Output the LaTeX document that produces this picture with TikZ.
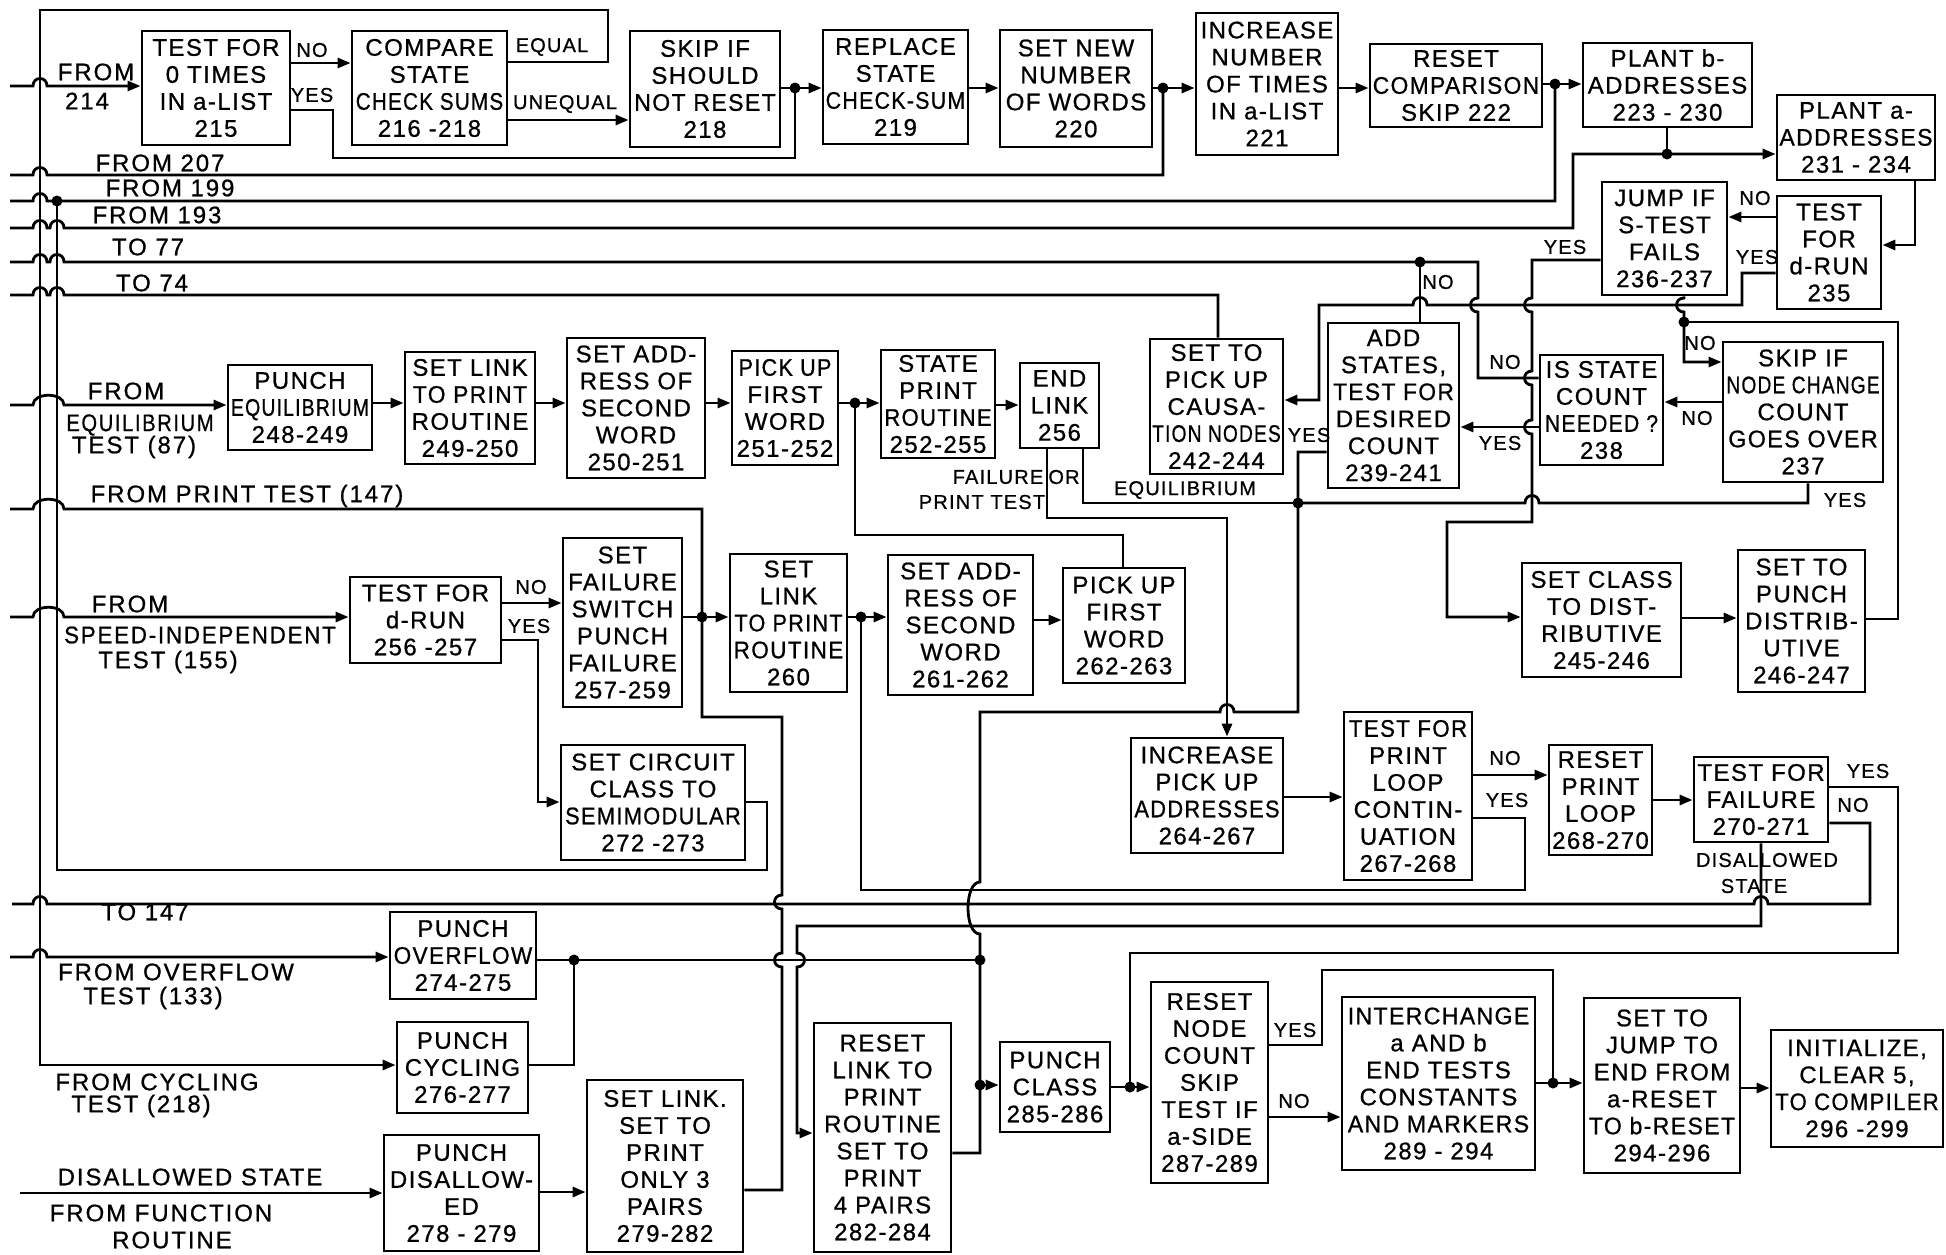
\documentclass[tikz,border=0pt]{standalone}
\usepackage{fontspec}
\setmainfont[LetterSpace=6,FakeBold=0.8]{Liberation Sans}
\usetikzlibrary{arrows.meta}
\newcommand\nw[2]{\scalebox{#1}[1]{#2}}
\newcommand\hoph[2]{-- ({#1-7},#2) .. controls ({#1-7},{#2-10}) and ({#1+7},{#2-10}) .. ({#1+7},#2)}
\newcommand\hopl[2]{-- ({#1+7},#2) .. controls ({#1+7},{#2-10}) and ({#1-7},{#2-10}) .. ({#1-7},#2)}
\newcommand\hopd[2]{-- (#1,{#2-7}) .. controls ({#1-10},{#2-7}) and ({#1-10},{#2+7}) .. (#1,{#2+7})}
\newcommand\hopdr[2]{-- (#1,{#2-7}) .. controls ({#1+10},{#2-7}) and ({#1+10},{#2+7}) .. (#1,{#2+7})}
\newcommand\hopw[3]{-- (#1,#3) .. controls (#1,{#3-13}) and (#2,{#3-13}) .. (#2,#3)}
\newcommand\bx[6]{%
  \pgfmathsetmacro\bxw{#4-#2}%
  \pgfmathsetmacro\bxh{#5-#3}%
  \pgfmathsetmacro\bxt{#4-#2-4}%
  \node[box, minimum width=\bxw pt, minimum height=\bxh pt, text width=\bxt pt] (#1) at ({(#2+#4)/2},{(#3+#5)/2}) {#6};}
\tikzset{
  box/.style={draw, line width=2.8pt, inner sep=0pt, align=center, font=\fontsize{24}{27}\selectfont},
  ln/.style={line width=2.8pt},
  arr/.style={line width=2.8pt, -{Triangle[length=13pt,width=10pt]}},
  lab/.style={font=\fontsize{20}{22}\selectfont, inner sep=0pt},
  side/.style={font=\fontsize{24}{26}\selectfont\addfontfeatures{LetterSpace=8}, inner sep=0pt, align=center},
}
\begin{document}
\begin{tikzpicture}[x=1pt,y=-1pt]
\useasboundingbox (0,0) rectangle (1946,1255);
\fill[white] (0,0) rectangle (1946,1255);
% ---------------- boxes ----------------
\bx{n215}{142}{31}{290}{145}{TEST FOR\\0 TIMES\\IN a-LIST\\215}
\bx{n216}{352}{31}{507}{145}{COMPARE\\STATE\\\nw{0.86}{CHECK SUMS}\\216 -218}
\bx{n218}{630}{31}{780}{147}{SKIP IF\\SHOULD\\\nw{0.96}{NOT RESET}\\218}
\bx{n219}{823}{30}{968}{144}{REPLACE\\STATE\\\nw{0.89}{CHECK-SUM}\\219}
\bx{n220}{1000}{30}{1152}{147}{SET NEW\\NUMBER\\OF WORDS\\220}
\bx{n221}{1196}{13}{1338}{155}{INCREASE\\NUMBER\\OF TIMES\\IN a-LIST\\221}
\bx{n222}{1370}{44}{1542}{127}{RESET\\\nw{0.95}{COMPARISON}\\SKIP 222}
\bx{n223}{1583}{43}{1752}{127}{PLANT b-\\ADDRESSES\\223 - 230}
\bx{n231}{1777}{95}{1935}{180}{PLANT a-\\\nw{0.96}{ADDRESSES}\\231 - 234}
\bx{n236}{1602}{182}{1727}{295}{JUMP IF\\S-TEST\\FAILS\\236-237}
\bx{n235}{1777}{196}{1881}{309}{TEST\\FOR\\d-RUN\\235}
\bx{n237}{1723}{342}{1883}{482}{SKIP IF\\\nw{0.8}{NODE CHANGE}\\COUNT\\\nw{0.97}{GOES OVER}\\237}
\bx{n238}{1540}{355}{1663}{465}{IS STATE\\COUNT\\\nw{0.88}{NEEDED ?}\\238}
\bx{n239}{1328}{323}{1459}{488}{ADD\\STATES,\\\nw{0.95}{TEST FOR}\\DESIRED\\COUNT\\239-241}
\bx{n242}{1150}{339}{1283}{474}{SET TO\\PICK UP\\CAUSA-\\\nw{0.8}{TION NODES}\\242-244}
\bx{n256}{1020}{363}{1099}{448}{END\\LINK\\256}
\bx{n252}{881}{350}{995}{458}{STATE\\PRINT\\\nw{0.92}{ROUTINE}\\252-255}
\bx{n251}{732}{351}{838}{465}{\nw{0.9}{PICK UP}\\FIRST\\WORD\\251-252}
\bx{n250}{567}{338}{705}{478}{SET ADD-\\RESS OF\\SECOND\\WORD\\250-251}
\bx{n249}{405}{352}{535}{464}{SET LINK\\\nw{0.95}{TO PRINT}\\ROUTINE\\249-250}
\bx{n248}{228}{365}{372}{450}{PUNCH\\\nw{0.81}{EQUILIBRIUM}\\248-249}
\bx{n256b}{350}{577}{501}{663}{TEST FOR\\d-RUN\\256 -257}
\bx{n257}{563}{538}{682}{707}{SET\\FAILURE\\SWITCH\\PUNCH\\FAILURE\\257-259}
\bx{n260}{730}{554}{847}{692}{SET\\LINK\\\nw{0.9}{TO PRINT}\\\nw{0.94}{ROUTINE}\\260}
\bx{n261}{888}{555}{1033}{695}{SET ADD-\\RESS OF\\SECOND\\WORD\\261-262}
\bx{n262}{1063}{568}{1185}{683}{PICK UP\\FIRST\\WORD\\262-263}
\bx{n272}{561}{745}{745}{860}{SET CIRCUIT\\CLASS TO\\\nw{0.91}{SEMIMODULAR}\\272 -273}
\bx{n245}{1522}{563}{1681}{677}{SET CLASS\\TO DIST-\\RIBUTIVE\\245-246}
\bx{n246}{1738}{550}{1865}{692}{SET TO\\PUNCH\\DISTRIB-\\UTIVE\\246-247}
\bx{n264}{1131}{738}{1283}{853}{INCREASE\\PICK UP\\\nw{0.91}{ADDRESSES}\\264-267}
\bx{n267}{1344}{712}{1472}{880}{\nw{0.93}{TEST FOR}\\PRINT\\LOOP\\CONTIN-\\UATION\\267-268}
\bx{n268}{1549}{745}{1652}{855}{RESET\\PRINT\\LOOP\\268-270}
\bx{n270}{1694}{757}{1828}{842}{TEST FOR\\FAILURE\\270-271}
\bx{n274}{390}{912}{536}{999}{PUNCH\\\nw{0.94}{OVERFLOW}\\274-275}
\bx{n276}{397}{1022}{528}{1113}{PUNCH\\CYCLING\\276-277}
\bx{n278}{384}{1135}{539}{1251}{PUNCH\\DISALLOW-\\ED\\278 - 279}
\bx{n279}{587}{1080}{743}{1252}{SET LINK.\\SET TO\\PRINT\\ONLY 3\\PAIRS\\279-282}
\bx{n282}{814}{1023}{951}{1252}{RESET\\LINK TO\\PRINT\\ROUTINE\\SET TO\\PRINT\\4 PAIRS\\282-284}
\bx{n285}{1000}{1042}{1110}{1132}{PUNCH\\CLASS\\285-286}
\bx{n287}{1151}{982}{1268}{1183}{RESET\\NODE\\COUNT\\SKIP\\TEST IF\\a-SIDE\\287-289}
\bx{n289}{1342}{997}{1535}{1170}{\nw{0.96}{INTERCHANGE}\\a AND b\\END TESTS\\CONSTANTS\\\nw{0.96}{AND MARKERS}\\289 - 294}
\bx{n294}{1584}{998}{1740}{1173}{SET TO\\JUMP TO\\END FROM\\a-RESET\\\nw{0.96}{TO b-RESET}\\294-296}
\bx{n296}{1771}{1030}{1943}{1147}{INITIALIZE,\\CLEAR 5,\\\nw{0.92}{TO COMPILER}\\296 -299}
% ---------------- junctions ----------------
\coordinate (j795) at (795,88);
\coordinate (j1163) at (1163,88);
\coordinate (j1555) at (1555,84);
\coordinate (j1667) at (1667,154);
\coordinate (j57) at (57,201);
\coordinate (j1420) at (1420,262);
\coordinate (j1684) at (1684,322);
\coordinate (j1298) at (1298,503);
\coordinate (j855) at (855,403);
\coordinate (j702) at (702,617);
\coordinate (j861) at (861,617);
\coordinate (j574) at (574,960);
\coordinate (j980a) at (980,960);
\coordinate (j980b) at (980,1085);
\coordinate (j1130) at (1130,1087);
\coordinate (j1553) at (1553,1083);
% ---------------- connectors ----------------
% top row
\draw[arr] (n216.east|-0,62) -- (608,62) -- (608,10) -- (40,10) -- (40,1065) -- (n276.west|-0,1065);
\draw[arr] (10,86) \hoph{40}{86} -- (n215.west|-0,86);
\draw[arr] (n215.east|-0,63) -- (n216.west|-0,63);
\draw[ln] (n215.east|-0,110) -- (333,110) -- (333,158) -- (795,158) -- (j795);
\draw[arr] (n216.east|-0,120) -- (n218.west|-0,120);
\draw[arr] (n218.east|-j795) -- (n219.west|-j795);
\draw[arr] (n219.east|-0,88) -- (n220.west|-0,88);
\draw[arr] (n220.east|-j1163) -- (n221.west|-j1163);
\draw[ln] (10,175) \hoph{40}{175} -- (1163,175) -- (j1163);
\draw[arr] (n221.east|-0,88) -- (n222.west|-0,88);
\draw[arr] (n222.east|-j1555) -- (n223.west|-j1555);
\draw[ln] (10,201) \hoph{40}{201} -- (1555,201) -- (j1555);
\draw[ln] (j57) -- (57,870) -- (767,870) -- (767,802) -- (n272.east|-0,802);
\draw[ln] (n223.south-|j1667) -- (j1667);
\draw[arr] (10,228) \hoph{40}{228} \hoph{57}{228} -- (1573,228) -- (1573,154) -- (n231.west|-0,154);
\draw[ln] (10,262) \hoph{40}{262} \hoph{57}{262} -- (1478,262) \hopd{1478}{305} -- (1478,378) -- (n238.west|-0,378);
\draw[ln] (j1420) -- (n239.north-|j1420);
\draw[ln] (10,295) \hoph{40}{295} \hoph{57}{295} -- (1218,295) -- (n242.north-|1218,0);
% right upper area
\draw[arr] (n235.west|-0,273) -- (1742,273) -- (1742,305) \hopl{1420}{305} -- (1319,305) -- (1319,400) -- (n242.east|-0,400);
\draw[arr] (n231.south-|1915,0) -- (1915,245) -- (n235.east|-0,245);
\draw[arr] (n235.west|-0,217) -- (n236.east|-0,217);
\draw[arr] (n236.west|-0,260) -- (1532,260) \hopd{1532}{305} \hopd{1532}{378} \hopd{1532}{427} -- (1532,522) -- (1447,522) -- (1447,617) -- (n245.west|-0,617);
\draw[arr] (n236.south-|j1684) \hopd{1684}{305} -- (j1684) -- (1684,362) -- (n237.west|-0,362);
\draw[ln] (n246.east|-0,619) -- (1898,619) -- (1898,322) -- (j1684);
\draw[arr] (n237.west|-0,402) -- (n238.east|-0,402);
\draw[ln] (n237.south-|1808,0) -- (1808,503) \hopl{1532}{503} -- (j1298);
\draw[arr] (n238.west|-0,427) -- (n239.east|-0,427);
\draw[arr] (n245.east|-0,618) -- (n246.west|-0,618);
\draw[ln] (n239.west|-0,452) -- (1298,452) -- (j1298) -- (1298,712) \hopl{1227}{712} -- (980,712) -- (980,882) .. controls (964,882) and (964,934) .. (980,934) -- (j980a) -- (j980b) -- (980,1153) -- (n282.east|-0,1153);
\draw[arr] (j980b) -- (n285.west|-j980b);
\draw[ln] (n256.south-|1083,0) -- (1083,503) -- (j1298);
\draw[arr] (n256.south-|1047,0) -- (1047,518) -- (1227,518) -- (n264.north-|1227,0);
% second row
\draw[arr] (n252.east|-0,405) -- (n256.west|-0,405);
\draw[arr] (n251.east|-j855) -- (n252.west|-j855);
\draw[ln] (n262.north-|1123,0) -- (1123,535) -- (855,535) -- (j855);
\draw[arr] (n250.east|-0,403) -- (n251.west|-0,403);
\draw[arr] (n249.east|-0,403) -- (n250.west|-0,403);
\draw[arr] (n248.east|-0,403) -- (n249.west|-0,403);
\draw[arr] (10,405) \hopw{33}{64}{405} -- (n248.west|-0,405);
\draw[ln] (10,509) \hopw{33}{64}{509} -- (702,509) -- (j702) -- (702,717) -- (782,717) \hopd{782}{902} \hopd{782}{960} -- (782,1190) -- (n279.east|-0,1190);
\draw[arr] (10,617) \hopw{33}{64}{617} -- (n256b.west|-0,617);
\draw[arr] (n256b.east|-0,603) -- (n257.west|-0,603);
\draw[arr] (n256b.east|-0,640) -- (538,640) -- (538,802) -- (n272.west|-0,802);
\draw[arr] (n257.east|-j702) -- (n260.west|-j702);
\draw[arr] (n260.east|-j861) -- (n261.west|-j861);
\draw[arr] (n261.east|-0,620) -- (n262.west|-0,620);
% print loop
\draw[ln] (n267.east|-0,818) -- (1525,818) -- (1525,890) -- (861,890) -- (j861);
\draw[arr] (n264.east|-0,797) -- (n267.west|-0,797);
\draw[arr] (n267.east|-0,775) -- (n268.west|-0,775);
\draw[arr] (n268.east|-0,800) -- (n270.west|-0,800);
\draw[ln] (n270.east|-0,787) -- (1898,787) -- (1898,953) -- (1130,953) -- (j1130);
\draw[ln] (n270.east|-0,823) -- (1870,823) -- (1870,904) \hopl{1761}{904} \hopl{40}{904} -- (12,904);
\draw[arr] (n270.south-|1761,0) -- (1761,926) -- (797,926) \hopdr{797}{960} -- (797,1133) -- (n282.west|-0,1133);
% bottom row
\draw[arr] (10,957) \hoph{40}{957} -- (n274.west|-0,957);
\draw[ln] (n274.east|-0,960) -- (j574) -- (j980a);
\draw[ln] (n276.east|-0,1065) -- (574,1065) -- (j574);
\draw[arr] (20,1193) -- (n278.west|-0,1193);
\draw[arr] (n278.east|-0,1192) -- (n279.west|-0,1192);
\draw[arr] (n285.east|-j1130) -- (n287.west|-j1130);
\draw[ln] (n287.east|-0,1045) -- (1322,1045) -- (1322,970) -- (1553,970) -- (j1553);
\draw[arr] (n287.east|-0,1117) -- (n289.west|-0,1117);
\draw[arr] (n289.east|-j1553) -- (n294.west|-j1553);
\draw[arr] (n294.east|-0,1088) -- (n296.west|-0,1088);
% dots
\foreach \p in {j795,j1163,j1555,j1667,j57,j1420,j1684,j1298,j855,j702,j861,j574,j980a,j980b,j1130,j1553}
  \fill (\p) circle[radius=5.5pt];
% ---------------- labels ----------------
\node[lab] (l1) at (312,50) {NO};
\node[lab] (l2) at (312,95) {YES};
\node[lab] (l3) at (552,47) {EQUAL};
\node[lab] (l4) at (565,104) {UNEQUAL};
\node[lab] (l5) at (1755,198) {NO};
\node[lab] (l6) at (1757,257) {YES};
\node[lab] (l7) at (1565,247) {YES};
\node[lab] (l8) at (1700,343) {NO};
\node[lab] (l9) at (1438,282) {NO};
\node[lab] (l10) at (1505,362) {NO};
\node[lab] (l11) at (1500,443) {YES};
\node[lab] (l12) at (1697,418) {NO};
\node[lab] (l13) at (1845,500) {YES};
\node[lab] (l14) at (1309,435) {YES};
\node[lab] (l15) at (998,477) {FAILURE};
\node[lab] (l16) at (1064,477) {OR};
\node[lab] (l17) at (982,502) {PRINT TEST};
\node[lab] (l18) at (1185,490) {EQUILIBRIUM};
\node[lab] (l19) at (531,587) {NO};
\node[lab] (l20) at (529,626) {YES};
\node[lab] (l21) at (1505,758) {NO};
\node[lab] (l22) at (1507,800) {YES};
\node[lab] (l23) at (1868,771) {YES};
\node[lab] (l24) at (1853,805) {NO};
\node[lab] (l25) at (1767,860) {DISALLOWED};
\node[lab] (l26) at (1754,886) {STATE};
\node[lab] (l27) at (1295,1030) {YES};
\node[lab] (l28) at (1294,1101) {NO};
% side texts
\node[side] (s1) at (96,72) {FROM};
\node[side] (s2) at (87,101) {214};
\node[side] (s3) at (160,163) {FROM 207};
\node[side] (s4) at (170,188) {FROM 199};
\node[side] (s5) at (157,215) {FROM 193};
\node[side] (s6) at (148,247) {TO 77};
\node[side] (s7) at (152,283) {TO 74};
\node[side] (s8) at (126,391) {FROM};
\node[side] (s9) at (140,425) {\nw{0.84}{EQUILIBRIUM}};
\node[side] (s10) at (134,447) {TEST (87)};
\node[side] (s11) at (247,496) {FROM PRINT TEST (147)};
\node[side] (s12) at (130,604) {FROM};
\node[side] (s13) at (200,635) {\nw{0.93}{SPEED-INDEPENDENT}};
\node[side] (s14) at (168,662) {TEST (155)};
\node[side] (s15) at (145,912) {TO 147};
\node[side] (s16) at (176,972) {FROM OVERFLOW};
\node[side] (s17) at (153,998) {TEST (133)};
\node[side] (s18) at (157,1082) {FROM CYCLING};
\node[side] (s19) at (141,1106) {TEST (218)};
\node[side] (s20) at (190,1177) {DISALLOWED STATE};
\node[side] (s21) at (161,1213) {FROM FUNCTION};
\node[side] (s22) at (172,1240) {ROUTINE};
\end{tikzpicture}
\end{document}
